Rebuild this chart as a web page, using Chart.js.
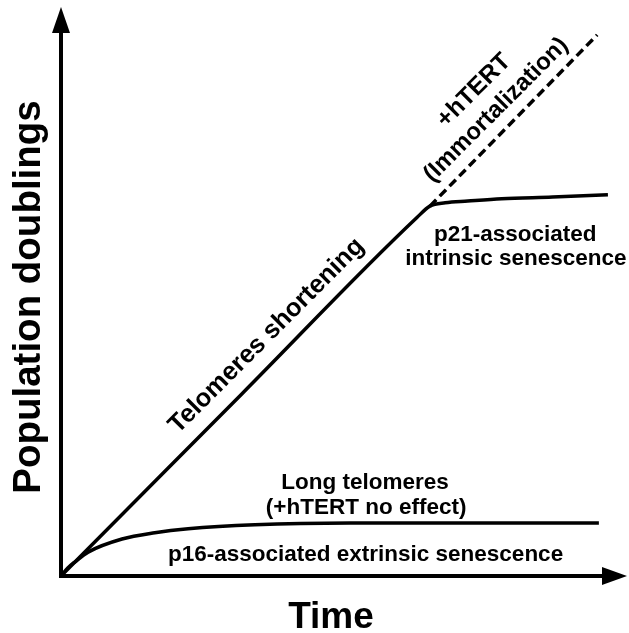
<!DOCTYPE html>
<html>
<head>
<meta charset="utf-8">
<script src="https://cdn.jsdelivr.net/npm/chart.js@4"></script>
<style>
  html, body { margin: 0; padding: 0; background: #fff; }
  #wrap { width: 629px; height: 633px; }
</style>
</head>
<body>
<div id="wrap"><canvas id="growthChart" width="629" height="633"></canvas></div>
<script>
// values in arbitrary units, 0..100 on both axes
const telomereX = [0, 32, 63, 65.3, 68, 72, 78, 87, 96.8];
const telomereY = [0, 32, 63, 65.0, 65.6, 65.9, 66.3, 66.6, 67.0];

const htertX = [65.3, 94.9];
const htertY = [65.0, 95.1];

const longX = [0, 1.2, 2.5, 4.8, 10.8, 16.6, 22.5, 34.3, 51.2, 95.2];
const longY = [0, 1.4, 2.5, 4.2, 6.5, 7.6, 8.3, 9.0, 9.3, 9.3];

const FONT = '"Liberation Sans", Arial, Helvetica, sans-serif';

function pts(xs, ys) {
  return xs.map((x, i) => ({ x: x, y: ys[i] }));
}

// text notes, placed in data units
const notes = [
  { text: 'Telomeres shortening', x: 36.4, y: 42.2, rot: -45, size: 25.5, base: 'middle' },
  { text: '+hTERT', x: 73.1, y: 85.3, rot: -45, size: 24.5, base: 'middle' },
  { text: '(Immortalization)', x: 77.0, y: 81.9, rot: -45, size: 24, base: 'middle' },
  { text: 'p21-associated', x: 80.4, y: 58.9, rot: 0, size: 22.5, base: 'alphabetic' },
  { text: 'intrinsic senescence', x: 80.5, y: 54.7, rot: 0, size: 22.5, base: 'alphabetic' },
  { text: 'Long telomeres', x: 53.8, y: 15.3, rot: 0, size: 22.5, base: 'alphabetic' },
  { text: '(+hTERT no effect)', x: 54.0, y: 10.9, rot: 0, size: 22.5, base: 'alphabetic' },
  { text: 'p16-associated extrinsic senescence', x: 53.9, y: 2.6, rot: 0, size: 22.5, base: 'alphabetic' }
];

const arrowAxes = {
  id: 'arrowAxes',
  afterDatasetsDraw(chart) {
    const c = chart.ctx;
    const sx = chart.scales.x, sy = chart.scales.y;
    const x0 = sx.getPixelForValue(0), y0 = sy.getPixelForValue(0);
    const xEnd = sx.getPixelForValue(100), yEnd = sy.getPixelForValue(100);
    c.save();
    c.strokeStyle = '#000';
    c.fillStyle = '#000';
    c.lineWidth = 4;
    c.lineCap = 'square';
    // axis lines
    c.beginPath();
    c.moveTo(x0, yEnd + 20);
    c.lineTo(x0, y0);
    c.lineTo(xEnd - 20, y0);
    c.stroke();
    // arrow heads
    c.beginPath();
    c.moveTo(x0, yEnd);
    c.lineTo(x0 - 9, yEnd + 26);
    c.lineTo(x0 + 9, yEnd + 26);
    c.closePath();
    c.fill();
    c.beginPath();
    c.moveTo(xEnd + 1, y0);
    c.lineTo(xEnd - 24, y0 - 9);
    c.lineTo(xEnd - 24, y0 + 9);
    c.closePath();
    c.fill();

    // notes
    notes.forEach(n => {
      c.save();
      c.translate(sx.getPixelForValue(n.x), sy.getPixelForValue(n.y));
      c.rotate(n.rot * Math.PI / 180);
      c.font = 'bold ' + n.size + 'px ' + FONT;
      c.textAlign = 'center';
      c.textBaseline = n.base;
      c.fillText(n.text, 0, 0);
      c.restore();
    });

    // axis titles
    c.font = 'bold 37px ' + FONT;
    c.textAlign = 'center';
    c.textBaseline = 'alphabetic';
    c.fillText('Time', 331, 628);
    c.font = 'bold 38.5px ' + FONT;
    c.save();
    c.translate(40, 297);
    c.rotate(-Math.PI / 2);
    c.fillText('Population doublings', 0, 0);
    c.restore();
    c.restore();
  }
};

const ctx = document.getElementById('growthChart').getContext('2d');

new Chart(ctx, {
  type: 'line',
  data: {
    datasets: [
      {
        label: 'Telomeres shortening',
        data: pts(telomereX, telomereY),
        borderColor: '#000',
        borderWidth: 3.5,
        pointRadius: 0,
        cubicInterpolationMode: 'monotone'
      },
      {
        label: '+hTERT',
        data: pts(htertX, htertY),
        borderColor: '#000',
        borderWidth: 3.5,
        borderDash: [9, 5],
        pointRadius: 0
      },
      {
        label: 'Long telomeres',
        data: pts(longX, longY),
        borderColor: '#000',
        borderWidth: 3.5,
        pointRadius: 0,
        cubicInterpolationMode: 'monotone'
      }
    ]
  },
  options: {
    responsive: false,
    animation: false,
    layout: { padding: { left: 61, right: 3, top: 7, bottom: 57 } },
    scales: {
      x: { type: 'linear', min: 0, max: 100, display: false },
      y: { type: 'linear', min: 0, max: 100, display: false }
    },
    plugins: {
      legend: { display: false },
      tooltip: { enabled: false }
    }
  },
  plugins: [arrowAxes]
});
</script>
</body>
</html>
